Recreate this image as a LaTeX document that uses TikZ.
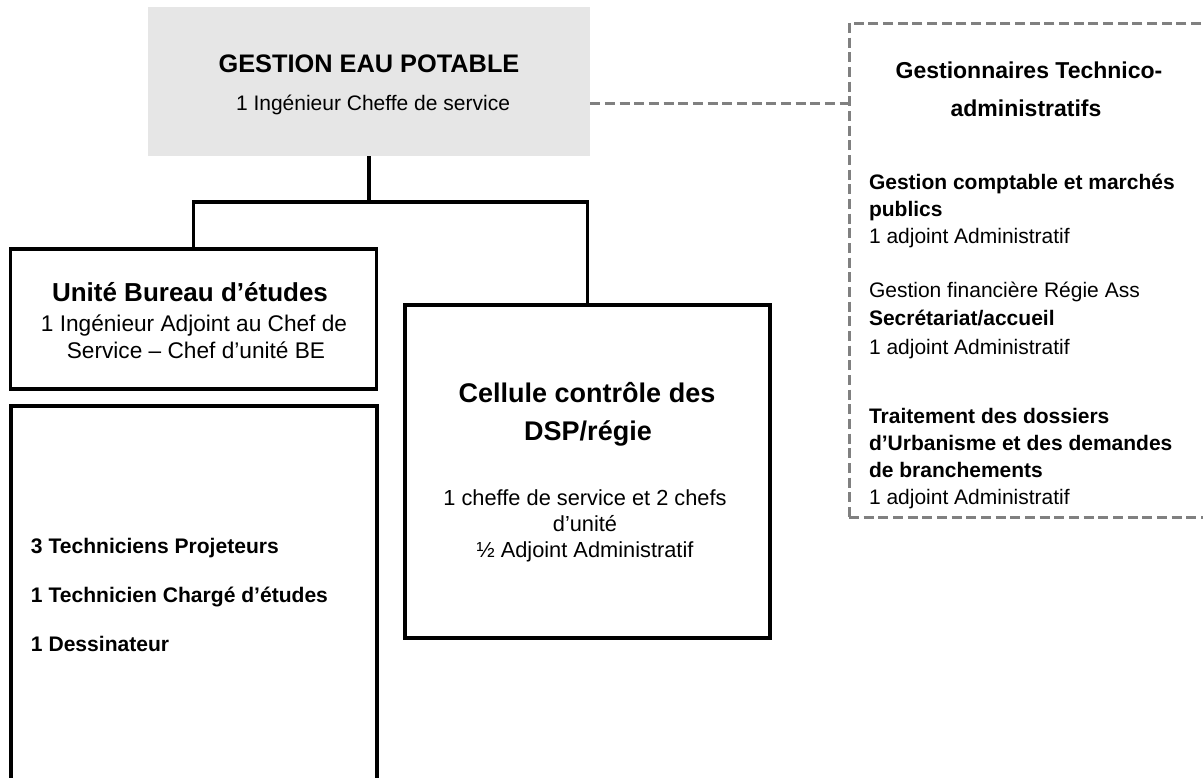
\documentclass[tikz,border=0pt]{standalone}
\usepackage{fontspec}
\setmainfont{Liberation Sans}
\definecolor{boxgray}{RGB}{230,230,230}
\definecolor{dashgray}{RGB}{128,128,128}
\begin{document}
\begin{tikzpicture}[x=0.75pt,y=-0.75pt,
  solidbox/.style={draw=black, line width=2.3pt, inner sep=0pt, fill=white},
  graybox/.style={fill=boxgray, draw=none, inner sep=0pt},
  dashbox/.style={draw=dashgray, line width=2.25pt, dash pattern=on 7.5pt off 3.5pt, inner sep=0pt},
  conn/.style={draw=black, line width=2.3pt},
  dashconn/.style={draw=dashgray, line width=2.25pt, dash pattern=on 7.5pt off 3.5pt},
  txt/.style={inner sep=0pt, outer sep=0pt, text=black},
  ctitle/.style={txt, anchor=base},
  ltext/.style={txt, anchor=base west},
  regtext/.style={font=\fontsize{15.75}{19}\selectfont},
  boldtext/.style={font=\fontsize{15.75}{19}\selectfont\bfseries}
]
\clip (0,0) rectangle (1203,778);
\fill[white] (0,0) rectangle (1203,778);

% boxes
\node[graybox, minimum width=331.5pt, minimum height=111.75pt] (top) at (369,81.5) {};
\node[solidbox, minimum width=274.5pt, minimum height=105pt] (unite) at (193.5,319) {};
\node[solidbox, minimum width=274.5pt, minimum height=310.5pt] (equipe) at (194,613) {};
\node[solidbox, minimum width=273.75pt, minimum height=249.75pt] (cellule) at (587.5,471.5) {};
\node[dashbox, minimum width=293.25pt, minimum height=370.5pt] (admin) at (1044.5,270) {};

% connectors
\coordinate (bus) at (369,202);
\coordinate (adminport) at (849,103);
\draw[conn] (top.south) -- (bus);
\draw[conn] (unite.north) |- (bus) -| (cellule.north);
\draw[dashconn] (adminport -| top.east) -- (adminport);

% top box text
\node[ctitle, font=\fontsize{19}{22}\selectfont\bfseries] (topT) at (369,72) {GESTION EAU POTABLE};
\node[ctitle, regtext] (topS) at (373,110.5) {1 Ingénieur Cheffe de service};

% unite text
\node[ctitle, font=\fontsize{19.5}{23}\selectfont\bfseries] (uniT) at (190,301) {Unité Bureau d’études};
\node[ctitle, font=\fontsize{17}{20}\selectfont] (uniS1) at (194,331) {1 Ingénieur Adjoint au Chef de};
\node[ctitle, font=\fontsize{17}{20}\selectfont] (uniS2) at (196,358) {Service – Chef d’unité BE};

% equipe text
\node[ltext, font=\fontsize{15.8}{19}\selectfont\bfseries] (eq1) at (31,553) {3 Techniciens Projeteurs};
\node[ltext, font=\fontsize{15.8}{19}\selectfont\bfseries] (eq2) at (31,602) {1 Technicien Chargé d’études};
\node[ltext, font=\fontsize{15.8}{19}\selectfont\bfseries] (eq3) at (31,651) {1 Dessinateur};

% cellule text
\node[ctitle, font=\fontsize{20.25}{24}\selectfont\bfseries] (celT1) at (587,402) {Cellule contrôle des};
\node[ctitle, font=\fontsize{20.25}{24}\selectfont\bfseries] (celT2) at (588,440) {DSP/régie};
\node[ctitle, font=\fontsize{16.35}{19}\selectfont] (celS1) at (585,505) {1 cheffe de service et 2 chefs};
\node[ctitle, font=\fontsize{16.35}{19}\selectfont] (celS2) at (585,531) {d’unité};
\node[ctitle, font=\fontsize{16.35}{19}\selectfont] (celS3) at (585,557) {½ Adjoint Administratif};

% admin text
\node[ctitle, font=\fontsize{17.25}{21}\selectfont\bfseries] (admT1) at (1029,78) {Gestionnaires Technico-};
\node[ctitle, font=\fontsize{17.25}{21}\selectfont\bfseries] (admT2) at (1026,116) {administratifs};
\node[ltext, boldtext] (adm1) at (869,189) {Gestion comptable et marchés};
\node[ltext, boldtext] (adm2) at (869,216) {publics};
\node[ltext, regtext] (adm3) at (869,243) {1 adjoint Administratif};
\node[ltext, regtext] (adm4) at (869,297.5) {Gestion financière Régie Ass};
\node[ltext, boldtext] (adm5) at (869,325.5) {Secrétariat/accueil};
\node[ltext, regtext] (adm6) at (869,354.5) {1 adjoint Administratif};
\node[ltext, boldtext] (adm7) at (869,423.5) {Traitement des dossiers};
\node[ltext, boldtext] (adm8) at (869,450.5) {d’Urbanisme et des demandes};
\node[ltext, boldtext] (adm9) at (869,477.5) {de branchements};
\node[ltext, regtext] (adm10) at (869,504.5) {1 adjoint Administratif};
\end{tikzpicture}
\end{document}
